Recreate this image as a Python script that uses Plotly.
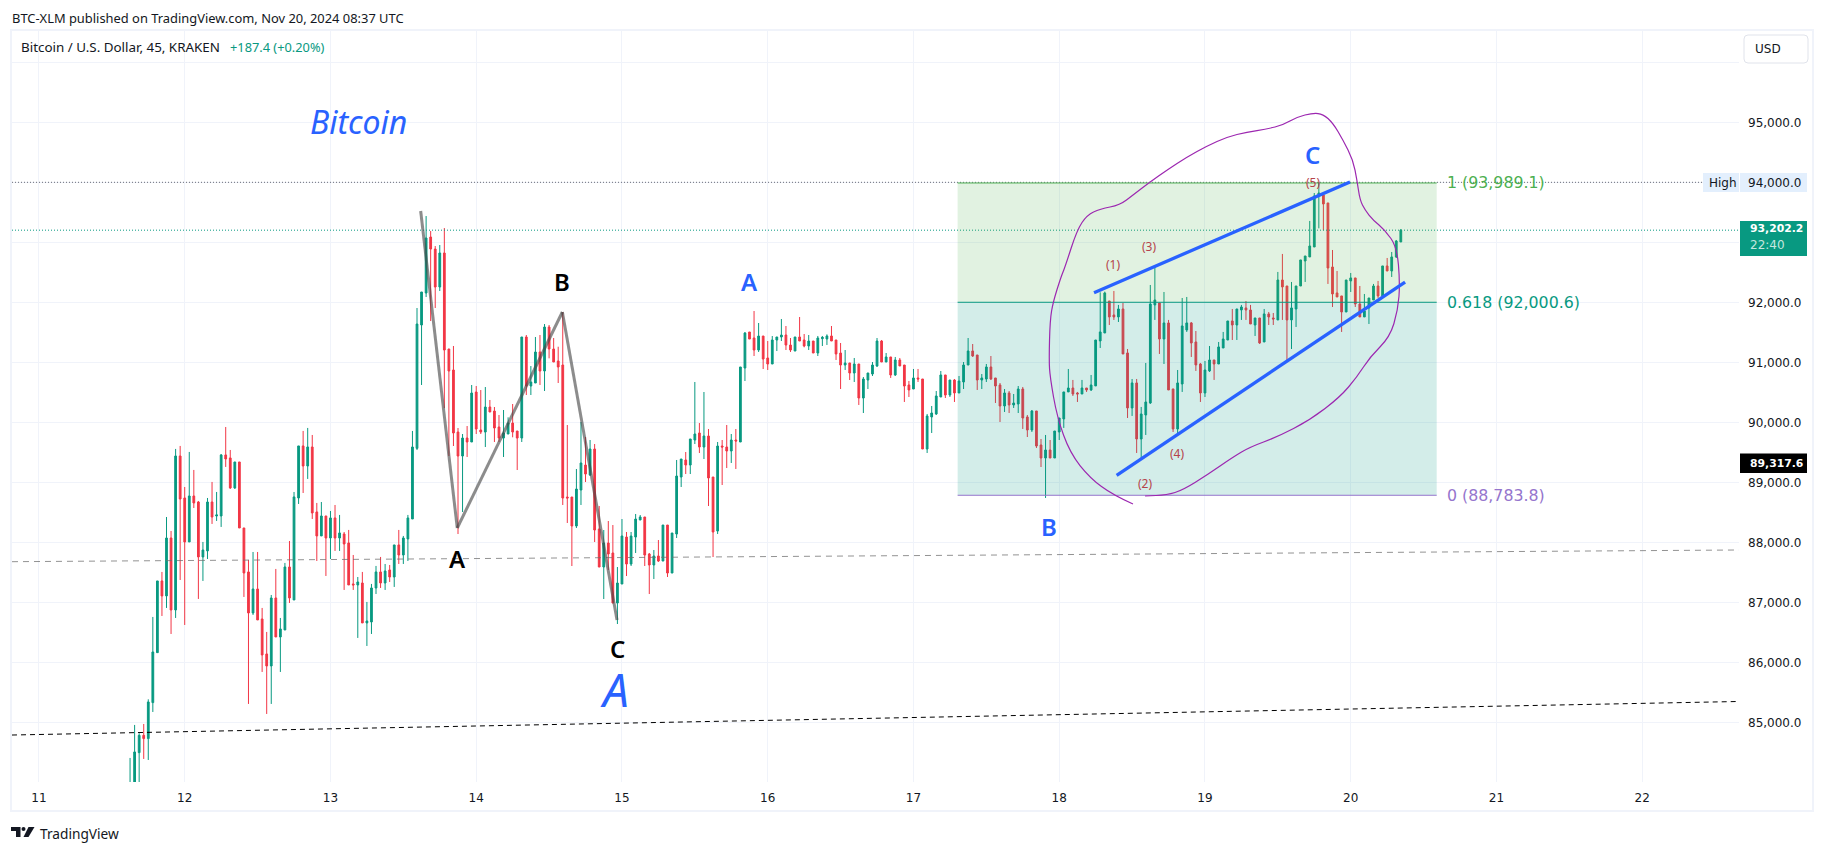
import plotly.graph_objects as go

# ---------- data ----------
first_bar = 20          # 45-minute bars counted from Nov 11 00:00
bar_days = 45 / 1440

opens = [83700,83900,84494,84783,84728,85328,86161,87356,87106,88072,
86872,89439,88739,88006,88772,88672,87756,87856,88672,88439,
88439,89456,89406,88906,89339,88239,87506,86822,87222,86722,
86139,85939,87072,86422,86539,87589,87039,88739,89606,89272,
89589,88506,88106,88439,88072,88406,88072,88139,87989,87306,
87289,87322,86656,86672,87239,87506,87322,87539,87422,87956,
87789,88056,88389,89566,91622,92155,93088,92888,92255,92822,
91222,90872,89838,89438,89738,89672,90505,89872,89838,90255,
90188,89922,89738,89805,89988,89855,89738,91422,90605,90655,
91172,90855,91588,91222,91022,90955,88755,88755,88272,88872,
89288,89122,89555,88222,87588,87988,87822,86988,87305,88088,
87638,88088,88372,88422,87805,87622,87772,87688,88288,87488,
88138,89088,89372,89288,89705,89822,89588,89772,89088,88188,
89605,89588,89522,89705,89672,90905,91505,91405,91205,91438,
91072,90972,91372,91422,91455,91288,91188,91422,91372,91272,
91355,91155,91394,91389,91439,91372,91155,90955,90989,90822,
90972,90405,90705,90805,90939,91355,91005,91089,90789,91039,
90955,90622,90555,90739,90722,89555,90089,90139,90422,90789,
90455,90705,90489,90672,90955,91189,91122,90705,90722,90922,
90739,90622,90272,90489,90289,90305,90555,90089,89872,90189,
89622,89405,89539,89405,89839,90056,90506,90572,90489,90472,
90572,90539,90606,91356,91489,92022,91789,91756,91889,91156,
90239,90656,89722,90122,90322,91956,91989,91389,91656,90556,
89889,90639,91539,91656,91339,90972,90489,90856,91039,90972,
91239,91372,91689,91622,91872,91906,91872,91622,91739,91339,
91806,91739,91706,92372,92272,91706,91889,92272,92689,92756,
92922,93772,93789,93656,92589,92156,92106,91839,92356,92406,
91972,91756,91906,92039,92272,92106,92606,92522,92756,93006]

highs = [84406,84956,84817,84972,85383,86756,87356,87506,88422,88189,
89556,89606,88922,89506,89206,88689,88006,88739,89006,88839,
89472,89922,89539,89339,89339,88239,87706,87839,87839,86906,
86506,87122,87556,86739,87656,88022,88839,89606,89856,89906,
89789,88656,88672,88439,88522,88622,88456,88172,88206,87789,
87422,87506,87006,87306,87606,87756,87639,87622,87956,88206,
88106,88456,89856,91905,92172,93438,93188,92938,92955,93238,
91222,91272,89905,89805,89938,90622,90605,90538,90588,90372,
90255,90122,90205,90083,90305,89855,91422,91455,90938,91422,
91455,91638,91622,91405,91260,91838,89955,88755,89222,90005,
89755,89705,89638,88605,88205,88355,88288,87588,88388,88172,
88172,88472,88455,88422,87822,87872,88038,88288,88288,88155,
89372,89388,89505,89722,90672,89988,90505,89888,89088,89672,
89705,89955,89805,89888,90922,91505,91505,91855,91655,91438,
91355,91438,91422,91722,91605,91405,91422,91755,91472,91455,
91355,91439,91439,91466,91605,91372,91322,91205,90989,91072,
90972,90755,90822,91005,91405,91372,91155,91089,91089,91072,
90955,90689,90889,90889,90722,90139,90272,90522,90855,90789,
90705,90722,90772,91005,91405,91305,91122,90805,90972,91105,
90739,90655,90555,90522,90472,90605,90589,90122,90205,90189,
89722,89789,89705,89855,90072,90506,90889,90706,90506,90706,
90572,90789,91372,92167,92178,92022,92189,91956,91989,91222,
90722,90722,90256,90989,92289,92589,91989,92172,91706,90556,
90872,92072,92089,91672,91522,90989,91022,91272,91039,91339,
91506,91689,91889,91889,91956,92022,91956,91739,91739,91889,
91839,91822,92506,92806,92272,92339,92272,92706,92772,93356,
93822,94000,93817,93656,92872,92522,92106,92372,92489,92406,
92272,92139,92072,92306,92356,92606,92739,92839,93039,93222]

lows = [83500,83800,83800,84389,84372,85172,86161,86772,86906,86472,
86739,87372,86622,88006,88572,87056,87356,87722,88306,88356,
88256,89256,88889,88889,88239,87089,85306,86789,86706,85839,
85139,85306,86422,85839,86539,86989,87039,88639,88822,89056,
88389,87689,88106,87439,87722,87856,87856,87206,87289,87206,
86406,86656,86272,86472,87139,87239,87206,87339,87256,87639,
87639,87689,88389,89538,90622,92088,91688,91905,92188,90238,
89438,89605,88138,88505,89422,89672,89805,89805,89588,90172,
89672,89672,89422,89805,89750,89205,89672,90455,90455,90655,
90622,90522,91066,91005,90655,88622,88322,87605,88238,88622,
89005,89105,88005,87588,87055,87538,86988,86638,87305,87438,
87605,87822,88372,87605,87138,87388,87672,87688,87422,87488,
88072,88922,89138,89138,89638,89488,89388,88605,87755,88138,
88955,89238,89322,89222,89672,90688,91388,91105,91172,90888,
90872,90972,91188,91355,91205,91172,91188,91355,91250,91205,
91155,91105,91272,91289,91355,91039,90555,90872,90705,90672,
90289,90155,90555,90772,90922,91005,91005,90739,90772,90939,
90339,90422,90555,90672,89555,89489,89822,90122,90422,90405,
90422,90339,90489,90555,90955,91089,90539,90555,90672,90705,
90322,90005,90172,90155,90239,90155,89889,89755,89839,89572,
89255,88739,89405,89405,89705,89906,90506,90439,90339,90472,
90506,90522,90606,91239,91489,91622,91706,91672,91139,90072,
90106,89489,89406,89789,90306,91706,91139,90972,90539,89839,
89806,90506,91506,91089,90856,90339,90422,90839,90706,90972,
91239,91372,91372,91372,91706,91706,91639,91439,91306,91339,
91622,91622,91706,91706,91039,91222,91589,92272,92339,92756,
92922,93233,93200,92306,91922,92089,91506,91839,92172,91922,
91756,91756,91639,92039,92072,92106,92522,92422,92739,93006]

closes = [83900,84506,84783,84728,85339,86172,87356,87106,88072,86872,
89439,88722,88006,88772,88656,87756,87872,88672,88422,88456,
89456,89389,88906,89339,88239,87489,86822,87222,86706,86122,
85939,87072,86422,86556,87589,87072,88756,89606,89272,89589,
88489,88106,88439,88072,88406,88072,88156,87972,87289,87289,
87339,86656,86689,87239,87506,87322,87522,87422,87956,87789,
88072,88406,89589,91638,92172,93072,92888,92255,92822,91205,
90855,89822,89438,89738,89672,90488,89888,89838,90255,90172,
89905,89738,89822,89988,89838,89738,91422,90605,90672,91172,
90855,91588,91222,91005,90922,88738,88738,88272,88888,89322,
89138,89555,88205,87588,87988,87805,86988,87322,88105,87638,
88105,88388,88422,87788,87622,87772,87688,88288,87488,88155,
89105,89388,89288,89722,89805,89588,89772,89072,88172,89605,
89588,89522,89705,89688,90922,91488,91388,91205,91438,91055,
90972,91372,91422,91455,91288,91205,91422,91355,91272,91355,
91155,91405,91416,91439,91355,91139,90955,90989,90822,90972,
90405,90722,90822,90955,91355,91005,91089,90789,91039,90939,
90605,90539,90739,90722,89555,90105,90155,90439,90789,90455,
90705,90489,90689,90955,91189,91105,90705,90739,90922,90722,
90605,90272,90489,90289,90322,90555,90072,89872,90189,89605,
89405,89539,89405,89855,90072,90506,90572,90472,90472,90572,
90539,90622,91372,91506,92156,91756,91756,91889,91139,90239,
90656,89722,90139,90339,91972,92039,91389,91656,90539,89889,
90656,91606,91656,91322,90956,90489,90872,91039,90972,91256,
91389,91689,91622,91889,91922,91872,91639,91739,91322,91806,
91756,91722,92372,92256,91706,91906,92272,92706,92772,92939,
93772,93822,93639,92572,92139,92089,91839,92372,92406,91972,
91756,91856,92072,92272,92106,92606,92522,92756,93022,93202.2]

price_ticks = [85000,86000,87000,88000,89000,90000,91000,92000,93000,94000,95000,96000]
price_tick_labels = ["85,000.0","86,000.0","87,000.0","88,000.0","89,000.0","90,000.0",
                     "91,000.0","92,000.0","","94,000.0","95,000.0",""]
day_ticks = [11,12,13,14,15,16,17,18,19,20,21,22]

fib_x = [17.303, 20.590]
fib_levels = [93989.1, 92000.6, 88783.8]
fib_labels = ["1 (93,989.1)", "0.618 (92,000.6)", "0 (88,783.8)"]
last_price = 93202.2
high_price = 94000

wave_days = [13.619, 13.870, 14.591, 14.966]
wave_prices = [93522, 88238, 91838, 86705]
upper_days = [18.239, 19.995]
upper_prices = [92160, 94005]
lower_days = [18.394, 20.373]
lower_prices = [89117, 92338]
gray_trend_days = [10.815, 22.664]
gray_trend_prices = [87677, 87872]
black_trend_prices = [84788, 85347]

curve_days = [18.506,18.369,18.211,18.074,17.985,17.937,17.930,17.937,17.958,18.012,18.040,18.122,18.191,18.280,
18.417,18.506,18.623,18.740,18.877,19.014,19.151,19.288,19.426,19.535,19.631,19.741,19.810,19.878,19.947,20.016,
20.043,20.063,20.098,20.153,20.235,20.317,20.338,20.324,20.269,20.132,20.043,19.927,19.721,19.495,19.309,19.193,
19.014,18.849,18.740,18.589]
curve_prices = [88638,88788,89072,89488,90088,90755,91038,91705,92005,92422,92588,93205,93455,93555,
93622,93788,94005,94205,94422,94605,94755,94838,94888,94955,95088,95155,95138,94988,94705,94372,
94038,93705,93538,93372,93205,92922,92322,91872,91422,91088,90755,90422,90038,89755,89588,89422,
89122,88872,88788,88772]

wave_text = ["A","B","A","C","B","C"]
wave_text_days = [13.870,14.589,15.874,14.966,17.930,19.741]
wave_text_prices = [87738,92343,92355,86222,88260,94472]
wave_text_colors = ["#000000","#000000","#2962ff","#000000","#2962ff","#2962ff"]

count_text = ["(1)","(3)","(5)","(2)","(4)"]
count_days = [18.371,18.618,19.743,18.591,18.810]
count_prices = [92633,92938,94005,88983,89472]

# ---------- geometry of the page ----------
W, H = 1824, 852
L, R, T, B = 12, 1739, 31, 782
UI = "Noto Sans"
AX = "DejaVu Sans"
GREEN, RED, BLUE = "#089981", "#f23645", "#2962ff"

def px(v): return (v - L) / (R - L)
def py(v): return (B - v) / (B - T)

days = [11 + (first_bar + k) * bar_days for k in range(len(opens))]

fig = go.Figure(go.Candlestick(
    x=days, open=opens, high=highs, low=lows, close=closes,
    increasing=dict(line=dict(color=GREEN, width=1), fillcolor=GREEN),
    decreasing=dict(line=dict(color=RED, width=1), fillcolor=RED),
    whiskerwidth=0, showlegend=False, hoverinfo="skip"))

shapes = []
def data_line(xs, ys, color, width, dash="solid"):
    for i in range(len(xs) - 1):
        shapes.append(dict(type="line", xref="x", yref="y", x0=xs[i], x1=xs[i+1], y0=ys[i], y1=ys[i+1],
                           line=dict(color=color, width=width, dash=dash), layer="above"))

# trend and price lines
data_line(gray_trend_days, gray_trend_prices, "rgba(110,110,110,0.75)", 1, "6px,5px")
data_line(gray_trend_days, black_trend_prices, "#000000", 1, "5px,4px")
data_line([10.815, 22.42], [high_price, high_price], "#6a6d78", 1, "1px,2px")
data_line([10.815, 22.664], [last_price, last_price], GREEN, 1, "1px,2px")

# fib zone
shapes.append(dict(type="rect", xref="x", yref="y", x0=fib_x[0], x1=fib_x[1], y0=fib_levels[1], y1=fib_levels[0],
                   fillcolor="rgba(76,175,80,0.17)", line_width=0, layer="above"))
shapes.append(dict(type="rect", xref="x", yref="y", x0=fib_x[0], x1=fib_x[1], y0=fib_levels[2], y1=fib_levels[1],
                   fillcolor="rgba(8,153,129,0.175)", line_width=0, layer="above"))
for lev, col in zip(fib_levels, ["#4caf50", GREEN, "#9575cd"]):
    data_line(fib_x, [lev, lev], col, 1)

# hand-drawn curve
p = f"M {curve_days[0]} {curve_prices[0]}"
for i in range(1, len(curve_days) - 1):
    mx = (curve_days[i] + curve_days[i+1]) / 2
    my = (curve_prices[i] + curve_prices[i+1]) / 2
    p += f" Q {curve_days[i]} {curve_prices[i]} {mx} {my}"
p += f" L {curve_days[-1]} {curve_prices[-1]}"
shapes.append(dict(type="path", xref="x", yref="y", path=p, line=dict(color="#9c27b0", width=1.2), layer="above"))

data_line(wave_days, wave_prices, "rgba(70,70,70,0.62)", 3)
data_line(upper_days, upper_prices, BLUE, 3.3)
data_line(lower_days, lower_prices, BLUE, 3.3)

# page frame and right-hand boxes
def page_rect(x0, x1, y0, y1, fill="rgba(0,0,0,0)", line=None, lw=0, layer="above"):
    shapes.append(dict(type="rect", xref="paper", yref="paper", x0=px(x0), x1=px(x1), y0=py(y1), y1=py(y0),
                       fillcolor=fill, line=dict(color=line or "rgba(0,0,0,0)", width=lw), layer=layer))

page_rect(11, 1813, 30, 811, line="#f0f3fa", lw=2)
page_rect(1703, 1739, 173, 192, fill="#e3effd")
page_rect(1740, 1807, 173, 192, fill="#e3effd", layer="below")
page_rect(1740, 1807, 221, 256, fill=GREEN)
page_rect(1740, 1807, 453.5, 473, fill="#000000")

def rounded(x0, x1, y0, y1, r):
    a, b, c, d = px(x0), px(x1), py(y0), py(y1)
    rx, ry = r / (R - L), r / (B - T)
    return (f"M {a+rx} {c} L {b-rx} {c} Q {b} {c} {b} {c-ry} L {b} {d+ry} Q {b} {d} {b-rx} {d} "
            f"L {a+rx} {d} Q {a} {d} {a} {d+ry} L {a} {c-ry} Q {a} {c} {a+rx} {c} Z")
shapes.append(dict(type="path", xref="paper", yref="paper", path=rounded(1744, 1808, 35, 63, 4),
                   line=dict(color="#e0e3eb", width=1), fillcolor="#ffffff", layer="above"))

# TradingView mark
def poly(points):
    return "M " + " L ".join(f"{px(a)} {py(b)}" for a, b in points) + " Z"
for pts in ([(11,827),(20.5,827),(20.5,837),(16,837),(16,831),(11,831)],
            [(28.5,827),(34.5,827),(28.5,837),(23.5,837)]):
    shapes.append(dict(type="path", xref="paper", yref="paper", path=poly(pts),
                       fillcolor="#131722", line_width=0, layer="above"))
shapes.append(dict(type="circle", xref="paper", yref="paper", x0=px(21.5), x1=px(25.5), y0=py(831), y1=py(827),
                   fillcolor="#131722", line_width=0, layer="above"))

ann = []
def page_text(x, y, s, size, color, font=UI, anchor="left"):
    ann.append(dict(xref="paper", yref="paper", x=px(x), y=py(y), text=s, showarrow=False,
                    xanchor=anchor, yanchor="middle", align="left", borderpad=0,
                    font=dict(family=font, size=size, color=color)))

def data_text(x, y, s, size, color, font=UI, weight="normal"):
    ann.append(dict(xref="x", yref="y", x=x, y=y, text=s, showarrow=False, xanchor="center", yanchor="middle",
                    borderpad=0, font=dict(family=font, size=size, color=color, weight=weight)))

page_text(11, 17.5, "BTC-XLM published on TradingView.com, Nov 20, 2024 08:37 UTC", 12.9, "#131722")
page_text(20, 47.5, "Bitcoin / U.S. Dollar, 45, KRAKEN", 13.4, "#131722")
page_text(228.5, 47.5, "+187.4 (+0.20%)", 12.8, GREEN)
page_text(38.5, 833.5, "TradingView", 13.7, "#131722")
page_text(1754, 49, "USD", 12, "#131722", AX)
page_text(1707.5, 182.5, "High", 12, "#131722", AX)
page_text(1749, 229, "<b>93,202.2</b>", 10.8, "#ffffff", AX)
page_text(1749, 245, "22:40", 12, "#c4e6df", AX)
page_text(1749, 463, "<b>89,317.6</b>", 10.8, "#ffffff", AX)

for s, lev, col in zip(fib_labels, fib_levels, ["#4caf50", GREEN, "#9575cd"]):
    ann.append(dict(xref="paper", yref="y", x=px(1446), y=lev, text=s, showarrow=False, xanchor="left",
                    yanchor="middle", borderpad=0, font=dict(family=AX, size=15.8, color=col)))

for s, x, y, c in zip(wave_text, wave_text_days, wave_text_prices, wave_text_colors):
    data_text(x, y, s, 24, c, weight=600)
for s, x, y in zip(count_text, count_days, count_prices):
    data_text(x, y, s, 12, "#b5434a")
data_text(13.189, 95022, "<i>Bitcoin</i>", 32, BLUE)
data_text(14.952, 85555, "<i>A</i>", 46, BLUE)

fig.update_layout(
    width=W, height=H, autosize=False,
    margin=dict(l=L, r=W - R, t=T, b=H - B, pad=0),
    paper_bgcolor="#ffffff", plot_bgcolor="#ffffff",
    boxgap=0.45, showlegend=False, shapes=shapes, annotations=ann,
    xaxis=dict(range=[10.815, 22.664], rangeslider=dict(visible=False), tickmode="array",
               tickvals=day_ticks, ticktext=[str(d) for d in day_ticks], showgrid=True, gridcolor="#f0f3fa",
               gridwidth=1, zeroline=False, showline=False, ticks="", ticklabelstandoff=7,
               tickfont=dict(family=AX, size=12, color="#131722")),
    yaxis=dict(range=[84005, 96522], side="right", tickmode="array", tickvals=price_ticks,
               ticktext=price_tick_labels, showgrid=True, gridcolor="#f0f3fa", gridwidth=1, zeroline=False,
               showline=False, ticks="", ticklabelstandoff=8, automargin=False,
               tickfont=dict(family=AX, size=12, color="#131722")),
)

fig.write_html("out.html", config={"displayModeBar": False},
               post_script="document.body.style.margin='0';document.body.style.overflow='hidden';")
